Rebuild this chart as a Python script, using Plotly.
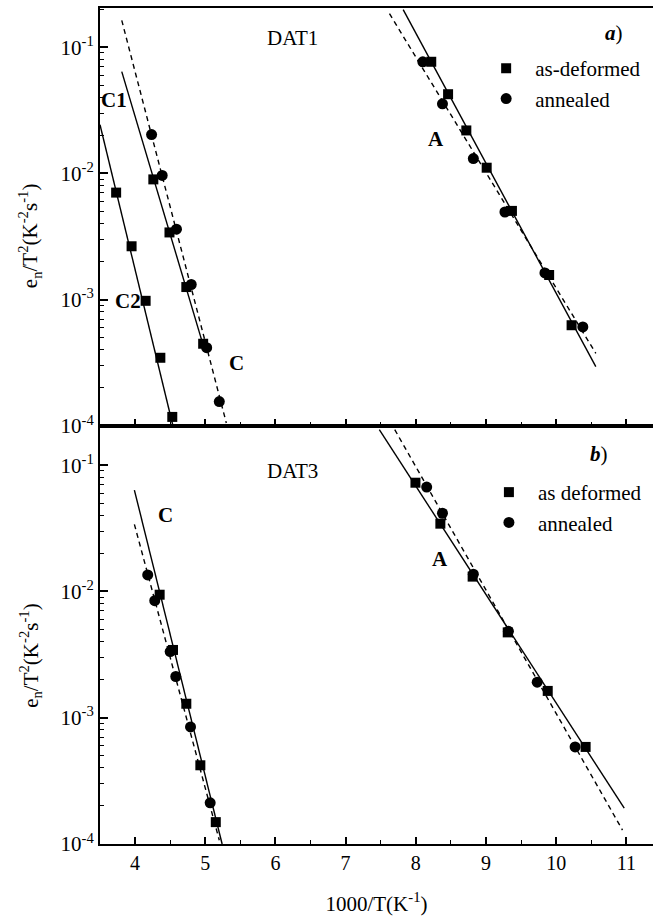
import plotly.graph_objects as go
from plotly.subplots import make_subplots

# ---------------- data ----------------
# Panel a) DAT1
a_def_x = [3.73, 3.95, 4.15, 4.36, 4.53, 4.26, 4.49, 4.73, 4.97,
           8.22, 8.46, 8.72, 9.01, 9.37, 9.90, 10.22]
a_def_y = [7.05e-3, 2.65e-3, 9.8e-4, 3.47e-4, 1.18e-4, 8.97e-3, 3.41e-3, 1.26e-3, 4.48e-4,
           7.66e-2, 4.24e-2, 2.19e-2, 1.11e-2, 5.05e-3, 1.57e-3, 6.28e-4]
a_ann_x = [4.235, 4.386, 4.59, 4.80, 5.02, 5.20,
           8.10, 8.38, 8.82, 9.27, 9.84, 10.38]
a_ann_y = [2.03e-2, 9.64e-3, 3.62e-3, 1.32e-3, 4.17e-4, 1.56e-4,
           7.66e-2, 3.56e-2, 1.31e-2, 4.95e-3, 1.63e-3, 6.09e-4]

# fitted lines, panel a)
a_C2_fit_x = [3.5, 4.54]
a_C2_fit_y = [2.43e-2, 1.0e-4]
a_C1_fit_x = [3.81, 4.97]
a_C1_fit_y = [6.4e-2, 4.37e-4]
a_C_dash_x = [3.81, 5.30]
a_C_dash_y = [1.63e-1, 1.057e-4]
a_A_fit_x = [7.82, 10.565]
a_A_fit_y = [1.98e-1, 2.95e-4]
a_A_dash_x = [7.625, 10.565]
a_A_dash_y = [1.84e-1, 3.76e-4]

# Panel b) DAT3
b_def_x = [4.35, 4.54, 4.73, 4.93, 5.15,
           7.995, 8.35, 8.81, 9.31, 9.88, 10.42]
b_def_y = [9.42e-3, 3.44e-3, 1.29e-3, 4.2e-4, 1.49e-4,
           7.26e-2, 3.44e-2, 1.31e-2, 4.74e-3, 1.63e-3, 5.87e-4]
b_ann_x = [4.18, 4.28, 4.50, 4.58, 4.79, 5.07,
           8.155, 8.38, 8.82, 9.32, 9.73, 10.27]
b_ann_y = [1.35e-2, 8.45e-3, 3.34e-3, 2.12e-3, 8.45e-4, 2.12e-4,
           6.7e-2, 4.16e-2, 1.37e-2, 4.83e-3, 1.91e-3, 5.87e-4]

b_C_fit_x = [3.99, 5.24]
b_C_fit_y = [6.35e-2, 1.0e-4]
b_C_dash_x = [3.99, 5.20]
b_C_dash_y = [3.4e-2, 1.07e-4]
b_A_fit_x = [7.48, 10.97]
b_A_fit_y = [1.91e-1, 1.92e-4]
b_A_dash_x = [7.70, 10.945]
b_A_dash_y = [1.91e-1, 1.29e-4]

y_tick_vals = [1e-4, 1e-3, 1e-2, 1e-1]
y_tick_text = ["10<sup>-4</sup>", "10<sup>-3</sup>", "10<sup>-2</sup>", "10<sup>-1</sup>"]
x_tick_vals = [4, 5, 6, 7, 8, 9, 10, 11]
x_tick_text = ["4", "5", "6", "7", "8", "9", "10", "11"]

# ---------------- figure ----------------
FONT = "Liberation Serif"
fig = make_subplots(rows=2, cols=1, shared_xaxes=False, vertical_spacing=0.0)

line_solid = dict(color="black", width=1.4)
line_dash = dict(color="black", width=1.4, dash="5px,4px")

def add_fit(x, y, dashed, row):
    fig.add_trace(go.Scatter(x=x, y=y, mode="lines", line=line_dash if dashed else line_solid,
                             showlegend=False, hoverinfo="skip"), row=row, col=1)

# panel a lines
add_fit(a_C2_fit_x, a_C2_fit_y, False, 1)
add_fit(a_C1_fit_x, a_C1_fit_y, False, 1)
add_fit(a_C_dash_x, a_C_dash_y, True, 1)
add_fit(a_A_fit_x, a_A_fit_y, False, 1)
add_fit(a_A_dash_x, a_A_dash_y, True, 1)
# panel b lines
add_fit(b_C_fit_x, b_C_fit_y, False, 2)
add_fit(b_C_dash_x, b_C_dash_y, True, 2)
add_fit(b_A_fit_x, b_A_fit_y, False, 2)
add_fit(b_A_dash_x, b_A_dash_y, True, 2)

sq = dict(symbol="square", size=10, color="black")
ci = dict(symbol="circle", size=11, color="black")

fig.add_trace(go.Scatter(x=a_def_x, y=a_def_y, mode="markers", marker=sq, name="as-deformed",
                         legend="legend", legendgroup="a1"), row=1, col=1)
fig.add_trace(go.Scatter(x=a_ann_x, y=a_ann_y, mode="markers", marker=ci, name="annealed",
                         legend="legend", legendgroup="a2"), row=1, col=1)
fig.add_trace(go.Scatter(x=b_def_x, y=b_def_y, mode="markers", marker=sq, name="as deformed",
                         legend="legend2", legendgroup="b1"), row=2, col=1)
fig.add_trace(go.Scatter(x=b_ann_x, y=b_ann_y, mode="markers", marker=ci, name="annealed",
                         legend="legend2", legendgroup="b2"), row=2, col=1)

minor_vals = [m * 10 ** e for e in (-5, -4, -3, -2, -1) for m in range(2, 10)]

yaxis_common = dict(
    type="log", range=[-4, -0.69], tickmode="array", tickvals=y_tick_vals, ticktext=y_tick_text,
    ticks="inside", ticklen=8, tickwidth=1.5, tickcolor="black",
    showline=True, linecolor="black", linewidth=2, mirror=False, showgrid=False, zeroline=False,
    tickfont=dict(family=FONT, size=21, color="black"),
    minor=dict(tickvals=minor_vals, ticks="inside", ticklen=4, tickwidth=1.2, tickcolor="black", showgrid=False),
)
xaxis_common = dict(
    range=[3.5, 11.38], tickmode="array", tickvals=x_tick_vals, ticktext=x_tick_text,
    ticks="inside", ticklen=7, tickwidth=1.5, tickcolor="black",
    showline=True, linecolor="black", linewidth=2, mirror=True, showgrid=False, zeroline=False,
    tickfont=dict(family=FONT, size=20, color="black"),
    minor=dict(dtick=0.5, tick0=3.5, ticks="inside", ticklen=4, tickwidth=1.2, tickcolor="black", showgrid=False),
)
fig.update_yaxes(**yaxis_common)
fig.update_xaxes(**xaxis_common)
fig.update_xaxes(showticklabels=False, row=1, col=1)
fig.update_xaxes(title=dict(text="1000/T(K<sup>-1</sup>)", font=dict(family=FONT, size=21, color="black"),
                            standoff=26), row=2, col=1)
fig.update_yaxes(domain=[0.5, 1.0], row=1, col=1)
fig.update_yaxes(domain=[0.0, 0.5], row=2, col=1)

legend_common = dict(font=dict(family=FONT, size=21, color="black"), bgcolor="rgba(0,0,0,0)",
                     traceorder="grouped", tracegroupgap=0, itemwidth=48,
                     xanchor="left", yanchor="top")
fig.update_layout(
    legend=dict(x=0.682, y=0.952, **legend_common),
    legend2=dict(x=0.687, y=0.445, **legend_common),
)

def txt(text, x, logy, xref, yref, size=21, bold=False):
    fig.add_annotation(text=(f"<b>{text}</b>" if bold else text), x=x, y=logy, xref=xref, yref=yref,
                       showarrow=False, xanchor="center", yanchor="middle",
                       font=dict(family=FONT, size=size, color="black"))

# panel a labels (y in log10 units)
txt("DAT1", 6.245, -0.93, "x", "y")
txt("<b><i>a</i></b>)", 10.83, -0.89, "x", "y")
txt("A", 8.29, -1.724, "x", "y", 21, True)
txt("C1", 3.70, -1.417, "x", "y", 21, True)
txt("C2", 3.90, -3.008, "x", "y", 21, True)
txt("C", 5.45, -3.504, "x", "y", 21, True)
# panel b labels
txt("DAT3", 6.245, -1.047, "x2", "y2")
txt("<b><i>b</i></b>)", 10.61, -0.913, "x2", "y2")
txt("A", 8.35, -1.742, "x2", "y2", 21, True)
txt("C", 4.44, -1.395, "x2", "y2", 21, True)

ytitle = "e<sub>n</sub>/T<sup>2</sup>(K<sup>-2</sup>s<sup>-1</sup>)"
for yc in (0.728, 0.226):
    fig.add_annotation(text=ytitle, x=-0.127, y=yc, xref="paper", yref="paper", textangle=-90,
                       showarrow=False, xanchor="center", yanchor="middle",
                       font=dict(family=FONT, size=21, color="black"))

fig.update_layout(
    width=653, height=916,
    margin=dict(l=100, r=0, t=8, b=72),
    paper_bgcolor="white", plot_bgcolor="white",
    font=dict(family=FONT, color="black"),
)

fig.write_html("out.html", config={"displayModeBar": False},
               post_script="document.body.style.margin='0';document.body.style.overflow='hidden';")
